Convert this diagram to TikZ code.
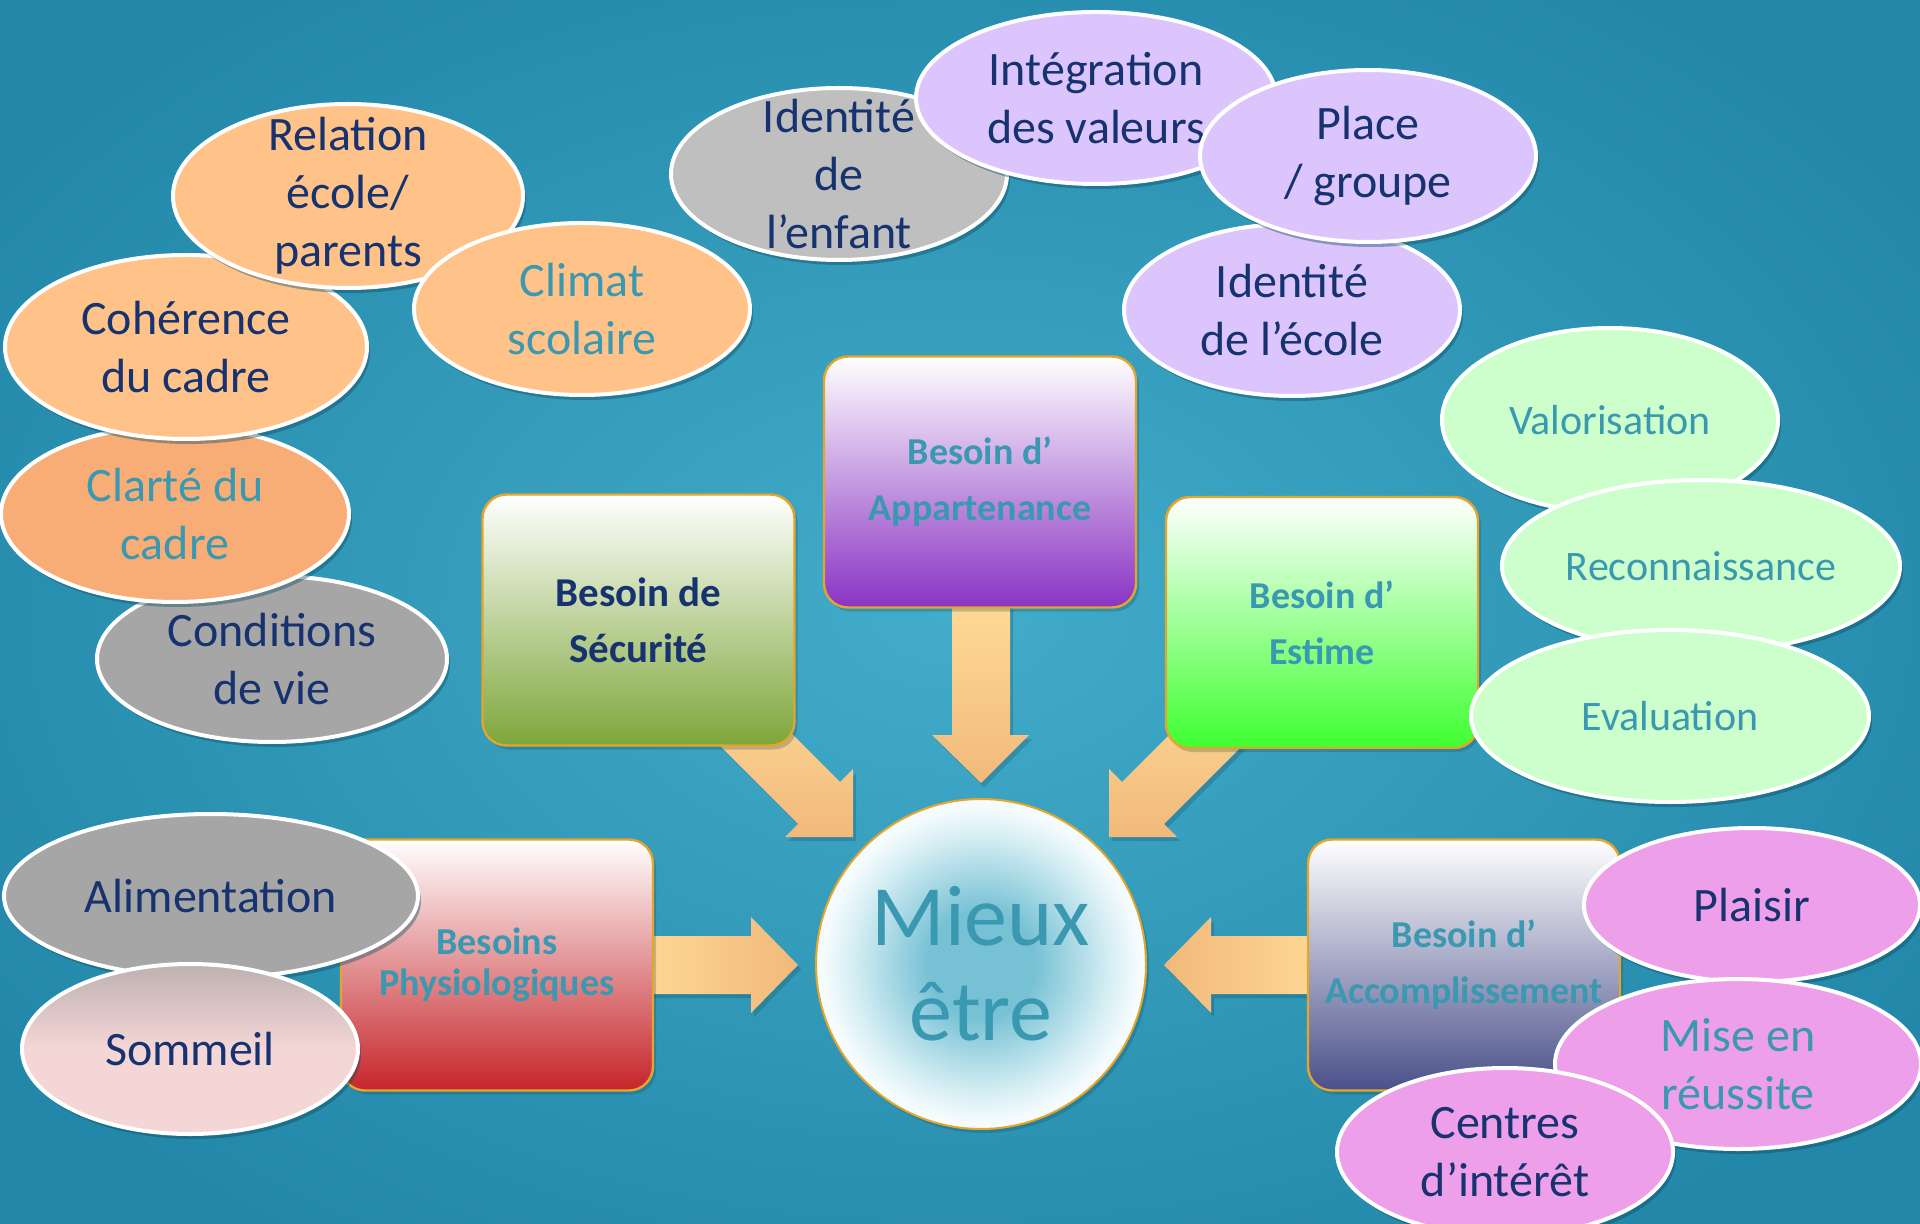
\documentclass[tikz,border=0pt]{standalone}
\usepackage{fontspec}
\setmainfont{Carlito}
\usetikzlibrary{shapes.geometric,shadows}
\definecolor{bgin}{HTML}{43ACCB}
\definecolor{bgout}{HTML}{2287A8}
\definecolor{navy}{HTML}{17336F}
\definecolor{tealtxt}{HTML}{3A98B1}
\definecolor{orangeA}{HTML}{FFC38A}
\definecolor{orangeB}{HTML}{F9AD76}
\definecolor{grayA}{HTML}{A6A6A6}
\definecolor{grayB}{HTML}{BFBFBF}
\definecolor{lav}{HTML}{DCC5FD}
\definecolor{lgreen}{HTML}{CCFFCC}
\definecolor{pinkA}{HTML}{EE9FE9}
\definecolor{somTop}{HTML}{BDB1B1}
\definecolor{somBot}{HTML}{F5D6D6}
\definecolor{gold}{HTML}{E3A52A}
\definecolor{arrLight}{HTML}{FFDA98}
\definecolor{arrDark}{HTML}{F1B97A}
\definecolor{shad}{HTML}{0C4A5E}
\definecolor{purpleB}{HTML}{8A33C3}
\definecolor{greenB}{HTML}{7EA63A}
\definecolor{greenC}{HTML}{3EFF30}
\definecolor{redB}{HTML}{C6252A}
\definecolor{slateB}{HTML}{4A508A}
\definecolor{mA}{HTML}{76C1D4}
\definecolor{mB}{HTML}{D6EEF4}
\definecolor{mC}{HTML}{F6FCFD}
\pgfdeclareradialshading{mieuxsh}{\pgfpoint{0bp}{0bp}}{color(0bp)=(mA); color(8bp)=(mA); color(19.5bp)=(mB); color(24bp)=(mC); color(50bp)=(mC)}
\tikzset{
  bub/.style={ellipse, draw=white, line width=2pt, inner sep=0pt,
    drop shadow={shadow xshift=1.5pt, shadow yshift=-2.5pt, opacity=0.4, fill=shad}},
  txt/.style={align=center, inner sep=0pt, font=\fontsize{24}{29}\selectfont},
  txtsmall/.style={align=center, inner sep=0pt, font=\fontsize{21}{26}\selectfont},
  needbox/.style={rectangle, rounded corners=12pt, draw=gold, line width=1.2pt,
    minimum width=156pt, minimum height=125.5pt, align=center, inner sep=0pt,
    font=\bfseries\fontsize{19}{28}\selectfont, top color=white,
    drop shadow={shadow xshift=1.5pt, shadow yshift=-2pt, opacity=0.25, fill=shad}},
  blockarrow/.style={draw=none,
    drop shadow={shadow xshift=1.5pt, shadow yshift=-2pt, opacity=0.25, fill=shad}}
}
\begin{document}
\begin{tikzpicture}[x=0.5pt,y=-0.5pt]
\path[use as bounding box] (0,0) rectangle (1920,1224);
\shade[inner color=bgin, outer color=bgout] (-200,-150) rectangle (2100,1374);

% ---- block arrows ----
\path[blockarrow, top color=arrLight, bottom color=arrDark]
  (952,600) -- (1010,600) -- (1010,735) -- (1029,735) -- (981,783) -- (932,735) -- (952,735) -- cycle;
\path[blockarrow, top color=arrLight, bottom color=arrDark]
  (734,676) -- (840,782) -- (853,769) -- (853,837) -- (785,837) -- (798,824) -- (692,718) -- cycle;
\path[blockarrow, top color=arrLight, bottom color=arrDark]
  (1228,676) -- (1122,782) -- (1109,769) -- (1109,837) -- (1177,837) -- (1164,824) -- (1270,718) -- cycle;
\path[blockarrow, left color=arrLight, right color=arrDark]
  (630,936) -- (751,936) -- (751,917) -- (798,965) -- (751,1013) -- (751,994) -- (630,994) -- cycle;
\path[blockarrow, left color=arrDark, right color=arrLight]
  (1332,936) -- (1211,936) -- (1211,917) -- (1164,965) -- (1211,1013) -- (1211,994) -- (1332,994) -- cycle;

% ---- need boxes ----
\node[needbox, bottom color=purpleB, text=tealtxt] (app) at (980,482) {Besoin d’\\Appartenance};
\node[needbox, bottom color=greenB, text=navy, font=\bfseries\fontsize{20.5}{28}\selectfont] (sec) at (638.5,620) {Besoin de\\Sécurité};
\node[needbox, bottom color=greenC, text=tealtxt] (est) at (1322,622.5) {Besoin d’\\Estime};
\node[needbox, bottom color=redB, text=tealtxt, font=\bfseries\fontsize{19}{20.5}\selectfont] (phy) at (497,965) {Besoins\\Physiologiques};
\node[needbox, bottom color=slateB, text=tealtxt] (acc) at (1464,965) {Besoin d’\\Accomplissement};

% ---- centre ----
\node[circle, minimum size=165pt, inner sep=0pt, draw=gold, line width=1pt, shading=mieuxsh,
  drop shadow={shadow xshift=1.5pt, shadow yshift=-2pt, opacity=0.25, fill=shad}] (mieux) at (981,964) {};
\node[align=center, inner sep=0pt, text=tealtxt, font=\fontsize{43}{47.5}\selectfont] at (mieux) {Mieux\\être};

% ---- left cluster ----
\node[bub, fill=grayA, minimum width=175pt, minimum height=83pt] (cond) at (272,659) {};
\node[txt, text=navy] at (cond) {Conditions\\de vie};
\node[bub, fill=orangeB, minimum width=174pt, minimum height=88pt] (clar) at (175,514) {};
\node[txt, text=tealtxt] at (clar) {Clarté du\\cadre};
\node[bub, fill=orangeA, minimum width=181pt, minimum height=92pt] (coh) at (186,347) {};
\node[txt, text=navy] at (coh) {Cohérence\\du cadre};
\node[bub, fill=orangeA, minimum width=175pt, minimum height=92pt] (rel) at (348,196) {};
\node[txt, text=navy] at (rel) {Relation\\école/\\parents};
\node[bub, fill=orangeA, minimum width=168pt, minimum height=86pt] (clim) at (582,309) {};
\node[txt, text=tealtxt] at (clim) {Climat\\scolaire};

% ---- top cluster ----
\node[bub, fill=grayB, minimum width=168pt, minimum height=86pt] (ide) at (839,174) {};
\node[txt, text=navy] at (ide) {Identité\\de\\l’enfant};
\node[bub, fill=lav, minimum width=180pt, minimum height=86pt] (integ) at (1096,98) {};
\node[txt, text=navy] at (integ) {Intégration\\des valeurs};
\node[bub, fill=lav, minimum width=168pt, minimum height=86pt] (idec) at (1292,310) {};
\node[txt, text=navy] at (idec) {Identité\\de l’école};
\node[bub, fill=lav, minimum width=168pt, minimum height=86pt] (place) at (1368,156) {};
\node[txt, text=navy] at (place) {Place\\/ groupe};

% ---- right cluster ----
\node[bub, fill=lgreen, minimum width=168pt, minimum height=92pt] (valo) at (1610,420) {};
\node[txtsmall, text=tealtxt] at (valo) {Valorisation};
\node[bub, fill=lgreen, minimum width=199pt, minimum height=86pt] (reco) at (1701,566) {};
\node[txtsmall, text=tealtxt] at (reco) {Reconnaissance};
\node[bub, fill=lgreen, minimum width=199pt, minimum height=86pt] (eval) at (1670,716) {};
\node[txtsmall, text=tealtxt] at (eval) {Evaluation};

% ---- bottom right cluster ----
\node[bub, fill=pinkA, minimum width=168pt, minimum height=77pt] (plai) at (1752,905) {};
\node[txt, text=navy] at (plai) {Plaisir};
\node[bub, fill=pinkA, minimum width=183pt, minimum height=85pt] (mise) at (1738,1064) {};
\node[txt, text=tealtxt] at (mise) {Mise en\\réussite};
\node[bub, fill=pinkA, minimum width=168pt, minimum height=84pt] (cent) at (1505,1152) {};
\node[txt, text=navy] at (cent) {Centres\\d’intérêt};

% ---- bottom left cluster ----
\node[bub, fill=grayA, minimum width=207pt, minimum height=82pt] (alim) at (211,896) {};
\node[txt, text=navy] at (alim) {Alimentation};
\node[bub, top color=somTop, bottom color=somBot, middle color=somBot, minimum width=168pt, minimum height=85pt] (somm) at (190,1049) {};
\node[txt, text=navy] at (somm) {Sommeil};
\end{tikzpicture}
\end{document}
